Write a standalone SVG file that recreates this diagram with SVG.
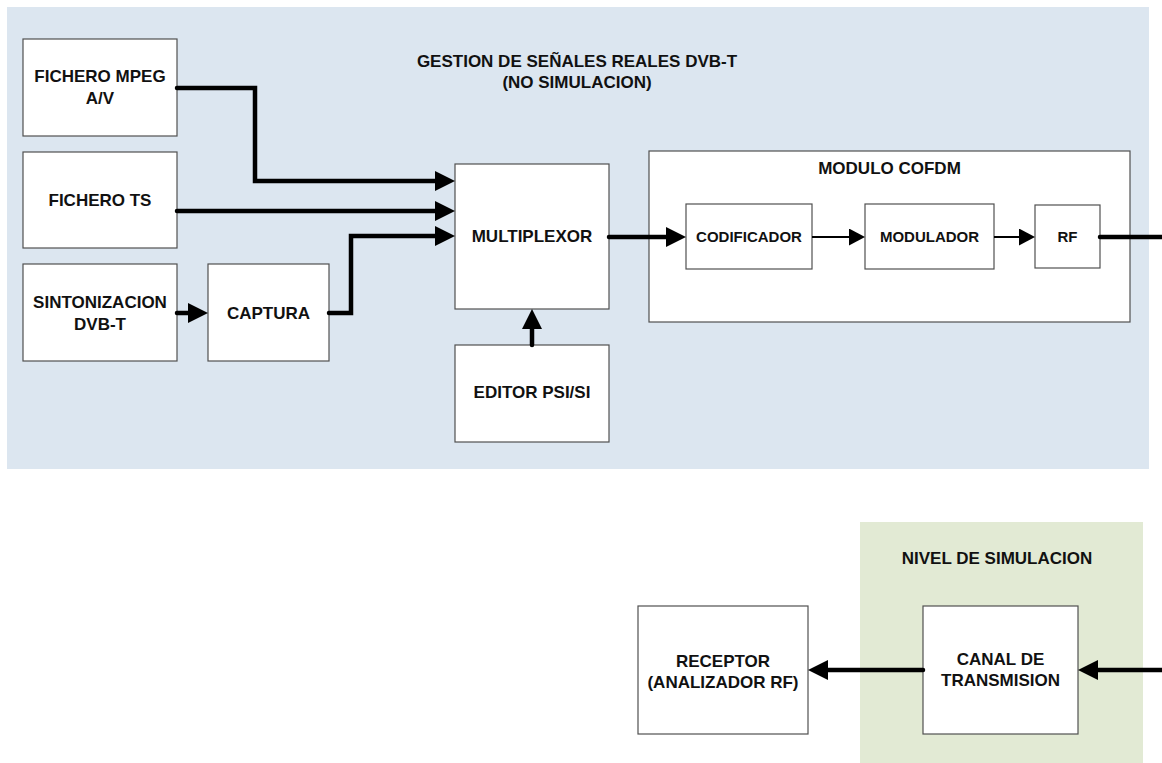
<svg xmlns="http://www.w3.org/2000/svg" width="1162" height="763" viewBox="0 0 1162 763">
  <style>
    .box { fill: #ffffff; stroke: #505050; stroke-width: 1.2; }
    .lbl { font-family: "Liberation Sans", Arial, sans-serif; font-weight: bold; font-size: 17px; fill: #111111; text-anchor: middle; }
    .sm { font-size: 15px; }
    .thick { fill: none; stroke: #000000; stroke-width: 4.5; stroke-linecap: round; stroke-linejoin: miter; }
    .thin { fill: none; stroke: #000000; stroke-width: 2; }
  </style>
  <defs>
    <marker id="arrowBig" markerUnits="userSpaceOnUse" markerWidth="20" markerHeight="20" refX="0" refY="10" orient="auto" viewBox="0 0 20 20">
      <path d="M0,0 L20,10 L0,20 z" fill="#000000"/>
    </marker>
    <marker id="arrowSmall" markerUnits="userSpaceOnUse" markerWidth="16" markerHeight="17" refX="0" refY="8.5" orient="auto" viewBox="0 0 16 17">
      <path d="M0,0 L16,8.5 L0,17 z" fill="#000000"/>
    </marker>
  </defs>

  <!-- background regions -->
  <rect id="zona-real" x="7" y="7" width="1142" height="462" fill="#dce6f0"/>
  <rect id="zona-simulacion" x="860" y="522" width="283" height="241" fill="#e2ead4"/>

  <g id="titulo-real">
    <text class="lbl" x="577" y="67">GESTION DE SEÑALES REALES DVB-T</text>
    <text class="lbl" x="577" y="88">(NO SIMULACION)</text>
  </g>
  <g id="titulo-simulacion">
    <text class="lbl" x="997" y="564">NIVEL DE SIMULACION</text>
  </g>

  <!-- nodes -->
  <g id="fichero-mpeg">
    <rect class="box" x="23" y="39" width="154" height="97"/>
    <text class="lbl" x="100" y="82">FICHERO MPEG</text>
    <text class="lbl" x="100" y="104">A/V</text>
  </g>
  <g id="fichero-ts">
    <rect class="box" x="23" y="152" width="154" height="96"/>
    <text class="lbl" x="100" y="206">FICHERO TS</text>
  </g>
  <g id="sintonizacion">
    <rect class="box" x="23" y="264" width="154" height="97"/>
    <text class="lbl" x="100" y="308">SINTONIZACION</text>
    <text class="lbl" x="100" y="330">DVB-T</text>
  </g>
  <g id="captura">
    <rect class="box" x="208" y="264" width="121" height="97"/>
    <text class="lbl" x="268.5" y="319">CAPTURA</text>
  </g>
  <g id="multiplexor">
    <rect class="box" x="455" y="164" width="154" height="145"/>
    <text class="lbl" x="532" y="242">MULTIPLEXOR</text>
  </g>
  <g id="editor-psi-si">
    <rect class="box" x="455" y="345" width="154" height="97"/>
    <text class="lbl" x="532" y="398">EDITOR PSI/SI</text>
  </g>
  <g id="modulo-cofdm">
    <rect class="box" x="649" y="151" width="481" height="171"/>
    <text class="lbl" x="889.5" y="174">MODULO COFDM</text>
  </g>
  <g id="codificador">
    <rect class="box" x="686" y="204" width="126" height="65"/>
    <text class="lbl sm" x="749" y="242">CODIFICADOR</text>
  </g>
  <g id="modulador">
    <rect class="box" x="865" y="204" width="129" height="65"/>
    <text class="lbl sm" x="929.5" y="242">MODULADOR</text>
  </g>
  <g id="rf">
    <rect class="box" x="1035" y="205" width="65" height="63"/>
    <text class="lbl sm" x="1067.5" y="242">RF</text>
  </g>
  <g id="receptor">
    <rect class="box" x="638" y="606" width="170" height="128"/>
    <text class="lbl" x="723" y="667">RECEPTOR</text>
    <text class="lbl" x="723" y="688">(ANALIZADOR RF)</text>
  </g>
  <g id="canal-transmision">
    <rect class="box" x="923" y="606" width="155" height="128"/>
    <text class="lbl" x="1000.5" y="665">CANAL DE</text>
    <text class="lbl" x="1000.5" y="686">TRANSMISION</text>
  </g>

  <!-- connectors -->
  <g id="conectores">
    <path class="thick" d="M177,88 H255 V181 H435" marker-end="url(#arrowBig)"/>
    <path class="thick" d="M177,211 H435" marker-end="url(#arrowBig)"/>
    <path class="thick" d="M329,313 H351 V236 H435" marker-end="url(#arrowBig)"/>
    <path class="thick" d="M177,313 H188" marker-end="url(#arrowBig)"/>
    <path class="thick" d="M532,345 V329" marker-end="url(#arrowBig)"/>
    <path class="thick" d="M609,237 H666" marker-end="url(#arrowBig)"/>
    <path class="thin" d="M812,237 H849" marker-end="url(#arrowSmall)"/>
    <path class="thin" d="M994,237 H1019" marker-end="url(#arrowSmall)"/>
    <path class="thick" d="M1100,237 H1164"/>
    <path class="thick" d="M923,670 H828" marker-end="url(#arrowBig)"/>
    <path class="thick" d="M1164,670 H1098" marker-end="url(#arrowBig)"/>
  </g>
</svg>
